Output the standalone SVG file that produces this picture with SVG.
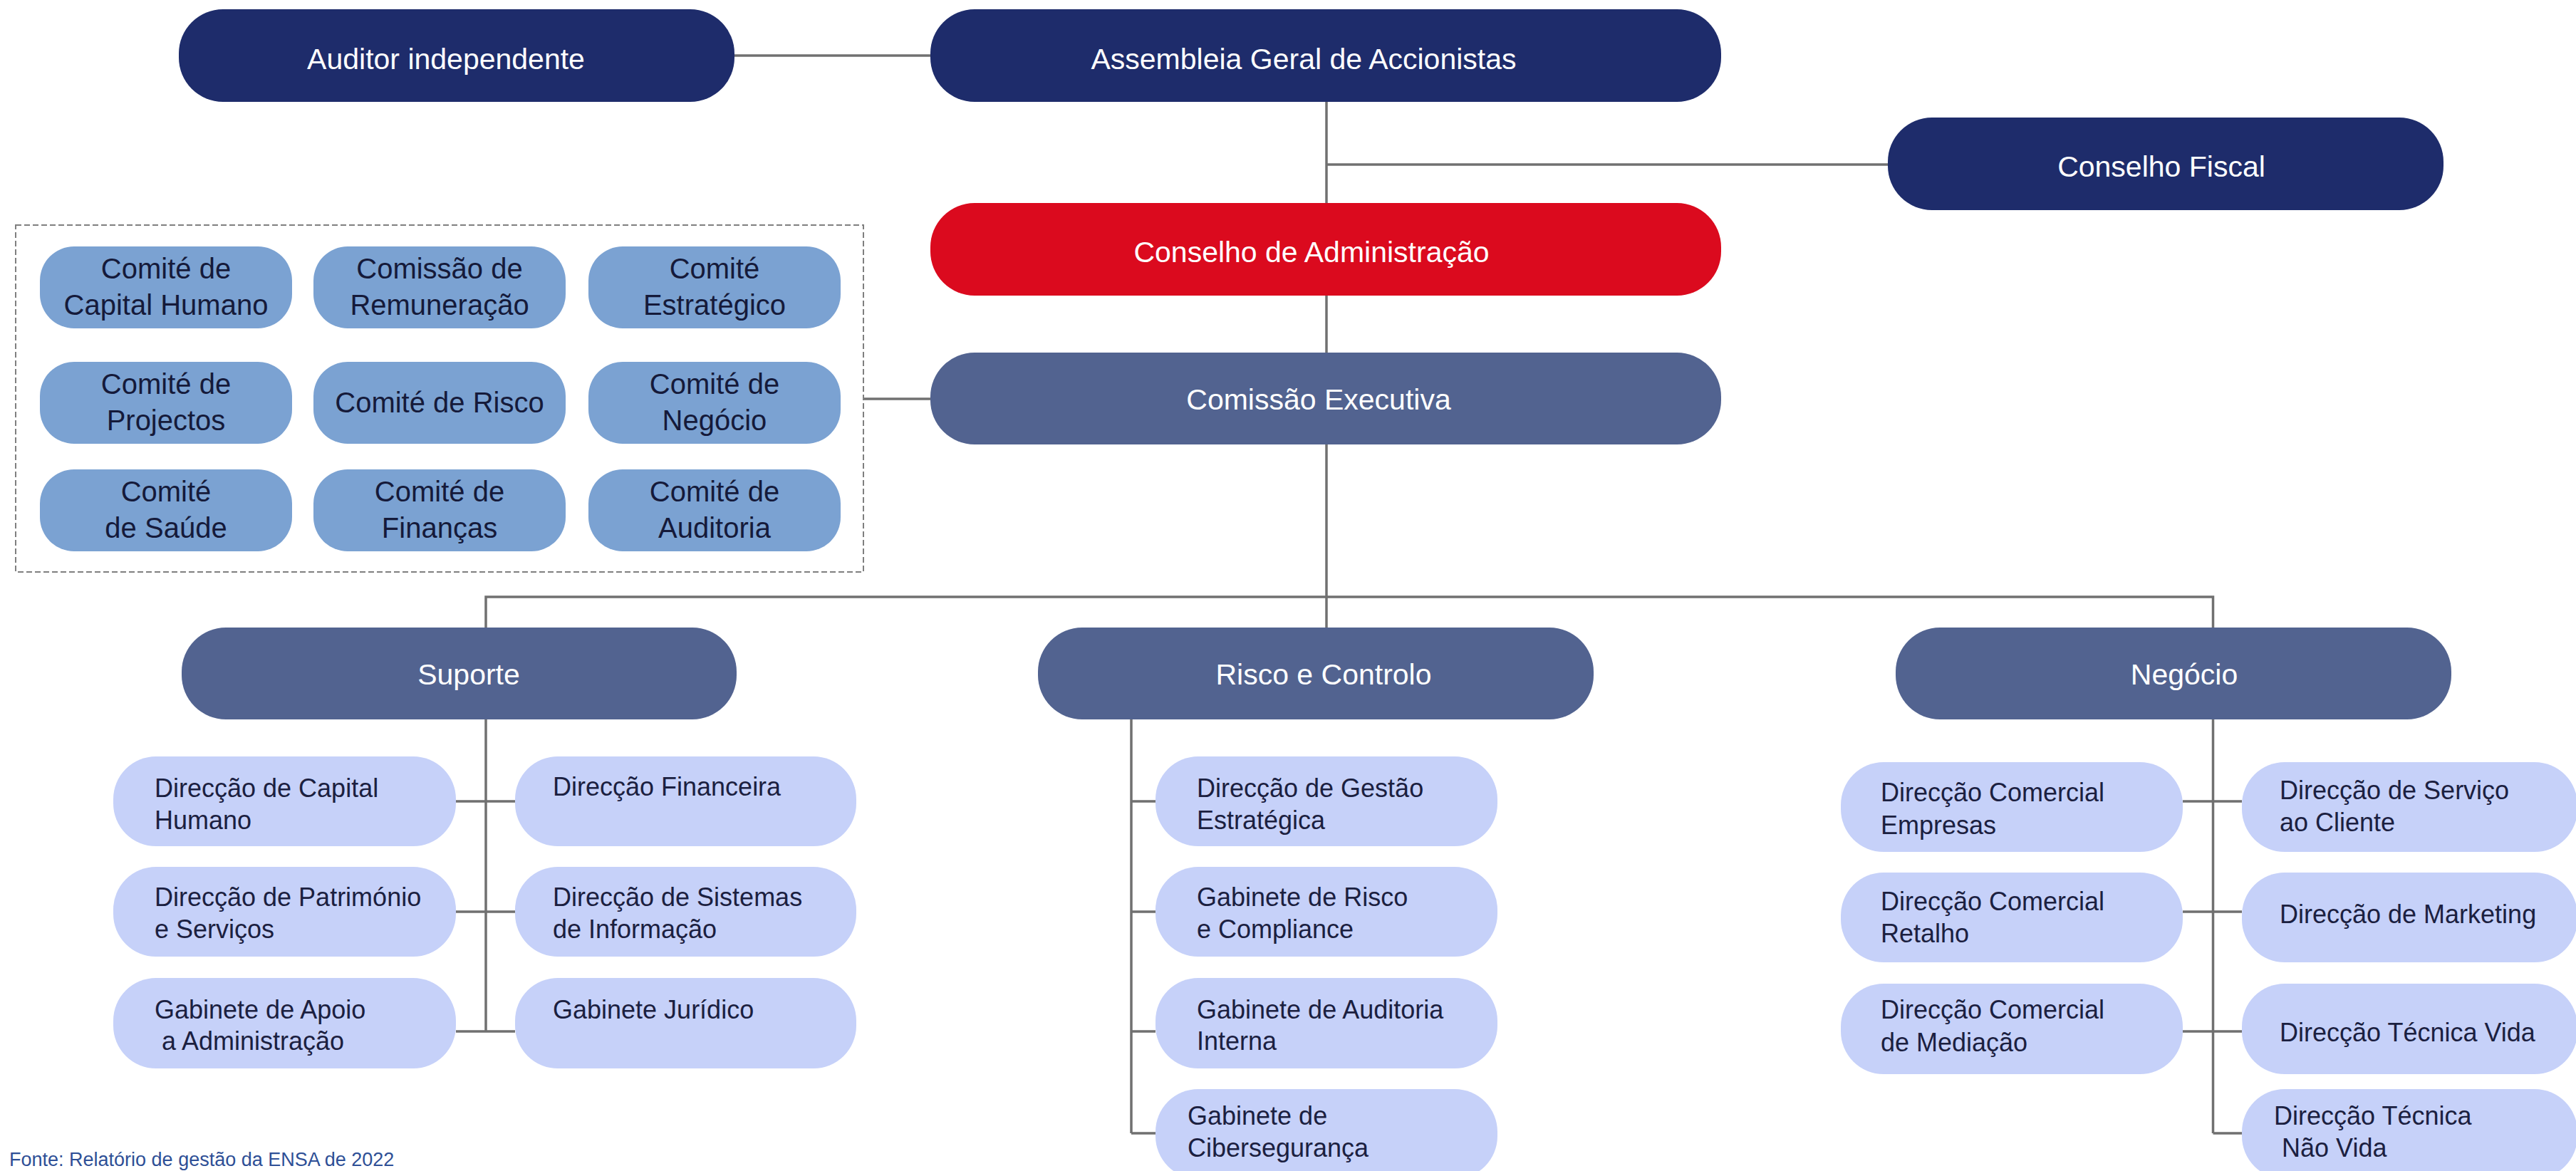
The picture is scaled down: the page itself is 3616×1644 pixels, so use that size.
<svg xmlns="http://www.w3.org/2000/svg" width="3616" height="1644" viewBox="0 0 3616 1644">
<style>
text{font-family:"Liberation Sans",Arial,sans-serif;}
.navy{fill:#1E2C6B;}
.red{fill:#DB0A1E;}
.slate{fill:#526390;}
.comm{fill:#7BA2D2;}
.child{fill:#C6D1F9;}
.wt{fill:#FFFFFF;font-size:41px;text-anchor:middle;}
.ct{fill:#151A3A;font-size:40px;text-anchor:middle;}
.kt{fill:#1B2040;font-size:36px;}
.conn line,.conn path{stroke:#707070;stroke-width:3.5;fill:none;}
.foot{fill:#2E4F96;font-size:27px;}
</style>
<rect x="0" y="0" width="3616" height="1644" fill="#FFFFFF"/>
<g id="connectors" class="conn">
<line x1="1031" y1="78" x2="1306" y2="78"/>
<line x1="1862" y1="143" x2="1862" y2="881"/>
<line x1="1862" y1="231" x2="2650" y2="231"/>
<line x1="1212" y1="560" x2="1306" y2="560"/>
<path d="M682 881 V838 H3106.5 V881"/>
<path d="M682 1010 V1448 M640 1125 H723 M640 1280 H723 M640 1448 H723"/>
<path d="M1588 1010 V1591 M1588 1125 H1622 M1588 1280 H1622 M1588 1448 H1622 M1588 1591 H1622"/>
<path d="M3106.5 1010 V1591 M3064 1125 H3147 M3064 1280 H3147 M3064 1448 H3147 M3106.5 1591 H3147"/>
</g>
<rect id="committees-frame" x="22" y="316" width="1190" height="487" fill="none" stroke="#7F7F7F" stroke-width="2" stroke-dasharray="8 4"/>
<g id="auditor"><rect class="navy" x="251" y="13" width="780" height="130" rx="62" ry="62"/><text class="wt" x="626" y="97">Auditor independente</text></g>
<g id="assembleia"><rect class="navy" x="1306" y="13" width="1110" height="130" rx="62" ry="62"/><text class="wt" x="1830" y="97">Assembleia Geral de Accionistas</text></g>
<g id="conselho-fiscal"><rect class="navy" x="2650" y="165" width="780" height="130" rx="62" ry="62"/><text class="wt" x="3034" y="248">Conselho Fiscal</text></g>
<g id="conselho-administracao"><rect class="red" x="1306" y="285" width="1110" height="130" rx="62" ry="62"/><text class="wt" x="1841" y="368">Conselho de Administração</text></g>
<g id="comissao-executiva"><rect class="slate" x="1306" y="495" width="1110" height="129" rx="62" ry="62"/><text class="wt" x="1851" y="575">Comissão Executiva</text></g>
<g id="c-capital-humano"><rect class="comm" x="56" y="346" width="354" height="115" rx="48" ry="48"/><text class="ct" x="233" y="391">Comité de</text><text class="ct" x="233" y="442">Capital Humano</text></g>
<g id="c-remuneracao"><rect class="comm" x="440" y="346" width="354" height="115" rx="48" ry="48"/><text class="ct" x="617" y="391">Comissão de</text><text class="ct" x="617" y="442">Remuneração</text></g>
<g id="c-estrategico"><rect class="comm" x="826" y="346" width="354" height="115" rx="48" ry="48"/><text class="ct" x="1003" y="391">Comité</text><text class="ct" x="1003" y="442">Estratégico</text></g>
<g id="c-projectos"><rect class="comm" x="56" y="508" width="354" height="115" rx="48" ry="48"/><text class="ct" x="233" y="553">Comité de</text><text class="ct" x="233" y="604">Projectos</text></g>
<g id="c-risco"><rect class="comm" x="440" y="508" width="354" height="115" rx="48" ry="48"/><text class="ct" x="617" y="579">Comité de Risco</text></g>
<g id="c-negocio"><rect class="comm" x="826" y="508" width="354" height="115" rx="48" ry="48"/><text class="ct" x="1003" y="553">Comité de</text><text class="ct" x="1003" y="604">Negócio</text></g>
<g id="c-saude"><rect class="comm" x="56" y="659" width="354" height="115" rx="48" ry="48"/><text class="ct" x="233" y="704">Comité</text><text class="ct" x="233" y="755">de Saúde</text></g>
<g id="c-financas"><rect class="comm" x="440" y="659" width="354" height="115" rx="48" ry="48"/><text class="ct" x="617" y="704">Comité de</text><text class="ct" x="617" y="755">Finanças</text></g>
<g id="c-auditoria"><rect class="comm" x="826" y="659" width="354" height="115" rx="48" ry="48"/><text class="ct" x="1003" y="704">Comité de</text><text class="ct" x="1003" y="755">Auditoria</text></g>
<g id="suporte"><rect class="slate" x="255" y="881" width="779" height="129" rx="62" ry="62"/><text class="wt" x="658" y="961">Suporte</text></g>
<g id="risco-controlo"><rect class="slate" x="1457" y="881" width="780" height="129" rx="62" ry="62"/><text class="wt" x="1858" y="961">Risco e Controlo</text></g>
<g id="negocio"><rect class="slate" x="2661" y="881" width="780" height="129" rx="62" ry="62"/><text class="wt" x="3066" y="961">Negócio</text></g>
<g id="d-capital-humano"><rect class="child" x="159" y="1062" width="481" height="126" rx="60" ry="60"/><text class="kt" x="217" y="1119">Direcção de Capital</text><text class="kt" x="217" y="1164">Humano</text></g>
<g id="d-financeira"><rect class="child" x="723" y="1062" width="479" height="126" rx="60" ry="60"/><text class="kt" x="776" y="1117">Direcção Financeira</text></g>
<g id="d-patrimonio"><rect class="child" x="159" y="1217" width="481" height="126" rx="60" ry="60"/><text class="kt" x="217" y="1272">Direcção de Património</text><text class="kt" x="217" y="1317">e Serviços</text></g>
<g id="d-sistemas"><rect class="child" x="723" y="1217" width="479" height="126" rx="60" ry="60"/><text class="kt" x="776" y="1272">Direcção de Sistemas</text><text class="kt" x="776" y="1317">de Informação</text></g>
<g id="g-apoio"><rect class="child" x="159" y="1373" width="481" height="127" rx="60" ry="60"/><text class="kt" x="217" y="1430">Gabinete de Apoio</text><text class="kt" x="227" y="1474">a Administração</text></g>
<g id="g-juridico"><rect class="child" x="723" y="1373" width="479" height="127" rx="60" ry="60"/><text class="kt" x="776" y="1430">Gabinete Jurídico</text></g>
<g id="d-gestao-estrategica"><rect class="child" x="1622" y="1062" width="480" height="126" rx="60" ry="60"/><text class="kt" x="1680" y="1119">Direcção de Gestão</text><text class="kt" x="1680" y="1164">Estratégica</text></g>
<g id="g-risco-compliance"><rect class="child" x="1622" y="1217" width="480" height="126" rx="60" ry="60"/><text class="kt" x="1680" y="1272">Gabinete de Risco</text><text class="kt" x="1680" y="1317">e Compliance</text></g>
<g id="g-auditoria-interna"><rect class="child" x="1622" y="1373" width="480" height="127" rx="60" ry="60"/><text class="kt" x="1680" y="1430">Gabinete de Auditoria</text><text class="kt" x="1680" y="1474">Interna</text></g>
<g id="g-ciberseguranca"><rect class="child" x="1622" y="1529" width="480" height="126" rx="60" ry="60"/><text class="kt" x="1667" y="1579">Gabinete de</text><text class="kt" x="1667" y="1624">Cibersegurança</text></g>
<g id="d-comercial-empresas"><rect class="child" x="2584" y="1070" width="480" height="126" rx="60" ry="60"/><text class="kt" x="2640" y="1125">Direcção Comercial</text><text class="kt" x="2640" y="1171">Empresas</text></g>
<g id="d-servico-cliente"><rect class="child" x="3147" y="1070" width="471" height="126" rx="60" ry="60"/><text class="kt" x="3200" y="1122">Direcção de Serviço</text><text class="kt" x="3200" y="1167">ao Cliente</text></g>
<g id="d-comercial-retalho"><rect class="child" x="2584" y="1225" width="480" height="126" rx="60" ry="60"/><text class="kt" x="2640" y="1278">Direcção Comercial</text><text class="kt" x="2640" y="1323">Retalho</text></g>
<g id="d-marketing"><rect class="child" x="3147" y="1225" width="471" height="126" rx="60" ry="60"/><text class="kt" x="3200" y="1296">Direcção de Marketing</text></g>
<g id="d-comercial-mediacao"><rect class="child" x="2584" y="1381" width="480" height="127" rx="60" ry="60"/><text class="kt" x="2640" y="1430">Direcção Comercial</text><text class="kt" x="2640" y="1476">de Mediação</text></g>
<g id="d-tecnica-vida"><rect class="child" x="3147" y="1381" width="471" height="127" rx="60" ry="60"/><text class="kt" x="3200" y="1462">Direcção Técnica Vida</text></g>
<g id="d-tecnica-nao-vida"><rect class="child" x="3147" y="1529" width="471" height="126" rx="60" ry="60"/><text class="kt" x="3192" y="1579">Direcção Técnica</text><text class="kt" x="3203" y="1624">Não Vida</text></g>
<text id="footer" class="foot" x="13" y="1637">Fonte: Relatório de gestão da ENSA de 2022</text>
</svg>
